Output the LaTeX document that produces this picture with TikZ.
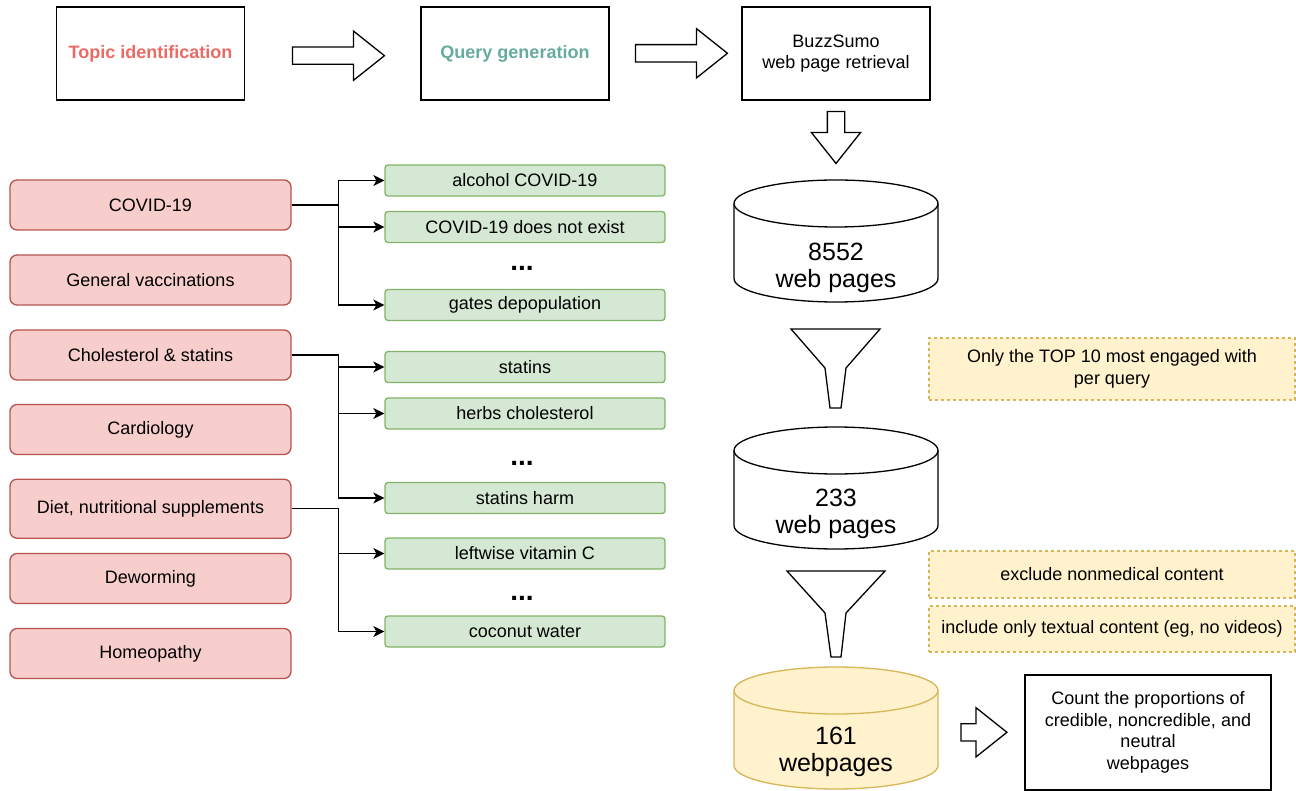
\documentclass[tikz,border=0pt]{standalone}
\usepackage{fontspec}
\setmainfont{Liberation Sans}
\usetikzlibrary{positioning, arrows.meta, shapes.arrows}
\definecolor{rossoF}{HTML}{F8CECC}
\definecolor{rossoB}{HTML}{B85450}
\definecolor{verdeF}{HTML}{D5E8D4}
\definecolor{verdeB}{HTML}{82B366}
\definecolor{gialloF}{HTML}{FFF2CC}
\definecolor{gialloB}{HTML}{D6B656}
\definecolor{titoloR}{HTML}{EA6B66}
\definecolor{titoloV}{HTML}{67AB9F}

\begin{document}
\begin{tikzpicture}[x=1pt, y=-1pt, font=\fontsize{18}{21.5}\selectfont,
  passo/.style={draw, line width=1.3pt, minimum width=188pt, minimum height=93pt, inner sep=0pt, align=center},
  tema/.style={draw=rossoB, fill=rossoF, rounded corners=7pt, line width=1.3pt, minimum width=281pt, minimum height=50pt, inner sep=0pt},
  query/.style={draw=verdeB, fill=verdeF, rounded corners=3pt, line width=1.3pt, minimum width=280pt, minimum height=31pt, inner sep=0pt},
  filtro/.style={draw=gialloB, fill=gialloF, dash pattern=on 3pt off 3pt, line width=1.3pt, minimum width=366pt, inner sep=0pt, align=center},
  freccione/.style={single arrow, draw, line width=1.3pt, fill=white, single arrow head extend=16pt, single arrow tip angle=77, inner sep=8pt},
  link/.style={line width=1.3pt, -{Stealth[length=11pt, width=11pt, inset=3pt]}},
  puntini/.style={font=\fontsize{28}{28}\selectfont\bfseries},
  dati/.style={align=center, font=\fontsize{25}{27}\selectfont}]
  \useasboundingbox (0,0) rectangle (1296,791);
  % fasi in alto
  \node[passo, text=titoloR, font=\fontsize{18}{21.5}\selectfont\bfseries] (topic) at (150.5,53.5) {Topic identification};
  \node[passo, text=titoloV, font=\fontsize{18}{21.5}\selectfont\bfseries] (gen) at (515,53.5) {Query generation};
  \node[passo] (buzz) at (836,53.5) {BuzzSumo\\web page retrieval};
  \node[freccione, minimum height=92pt] (fr1) at (333,55.7) {};
  \node[freccione, minimum height=92pt] (fr2) at (676,53.3) {};
  \node[freccione, minimum height=52pt, shape border rotate=270] (fr3) at (836,132) {};
  % temi
  \foreach \n/\y/\h/\testo in {1/205/50/COVID-19, 2/280/50/General vaccinations, 3/355/50/Cholesterol \& statins,
      4/429.5/50/Cardiology, 5/508.7/59/{Diet, nutritional supplements}, 6/578.5/50/Deworming, 7/653.5/50/Homeopathy}{
    \node[tema, minimum height=\h pt] (t\n) at (150.5,\y) {\testo};
  }
  % query
  \foreach \n/\y/\testo in {1/180.5/alcohol COVID-19, 2/227/COVID-19 does not exist, 3/305/gates depopulation,
      4/367/statins, 5/413.5/herbs cholesterol, 6/498/statins harm, 7/553.5/leftwise vitamin C, 8/631.5/coconut water}{
    \node[query] (q\n) at (525,\y) {\testo};
  }
  \node[puntini] (d1) at (522,268) {...};
  \node[puntini] (d2) at (522,463) {...};
  \node[puntini] (d3) at (522,598) {...};
  \foreach \q in {1,2,3}{ \draw[link] (t1.east) -- ++(47,0) |- (q\q.west); }
  \foreach \q in {4,5,6}{ \draw[link] (t3.east) -- ++(47,0) |- (q\q.west); }
  \foreach \q in {7,8}{ \draw[link] (t5.east) -- ++(47,0) |- (q\q.west); }
  % cilindri
  \foreach \yt/\fc/\dc in {180/white/black, 427/white/black, 667/gialloF/gialloB}{
    \filldraw[fill=\fc, draw=\dc, line width=1.3pt] (734,\yt+23.5) -- (734,\yt+98.5)
      arc[start angle=180, end angle=0, x radius=102, y radius=23.5] -- (938,\yt+23.5)
      arc[start angle=0, end angle=-180, x radius=102, y radius=23.5] -- cycle;
    \draw[draw=\dc, line width=1.3pt] (734,\yt+23.5) arc[start angle=180, end angle=0, x radius=102, y radius=23.5];
  }
  \node[dati] (db1) at (836,268) {8552\\web pages};
  \node[dati] (db2) at (836,514) {233\\web pages};
  \node[dati] (db3) at (836,752) {161\\webpages};
  % imbuti
  \filldraw[fill=white, line width=1.3pt] (791,329) -- (880,329) -- (846,368) -- (841,408) -- (830,408) -- (825,368) -- cycle;
  \filldraw[fill=white, line width=1.3pt] (787,571) -- (885,571) -- (846,613) -- (841,657) -- (831,657) -- (825,613) -- cycle;
  % criteri di filtro
  \node[filtro, minimum height=62pt] (f1) at (1112,369) {Only the TOP 10 most engaged with\\per query};
  \node[filtro, minimum height=47pt] (f2) at (1112,574.5) {exclude nonmedical content};
  \node[filtro, minimum height=46pt] (f3) at (1112,629) {include only textual content (eg, no videos)};
  % conteggio finale
  \node[freccione, minimum height=46pt] (fr4) at (978.5,732.3) {};
  \node[draw, line width=1.3pt, minimum width=246pt, minimum height=115pt, align=center] (conta) at (1148,732.5)
    {Count the proportions of\\credible, noncredible, and\\neutral\\webpages};
\end{tikzpicture}
\end{document}
